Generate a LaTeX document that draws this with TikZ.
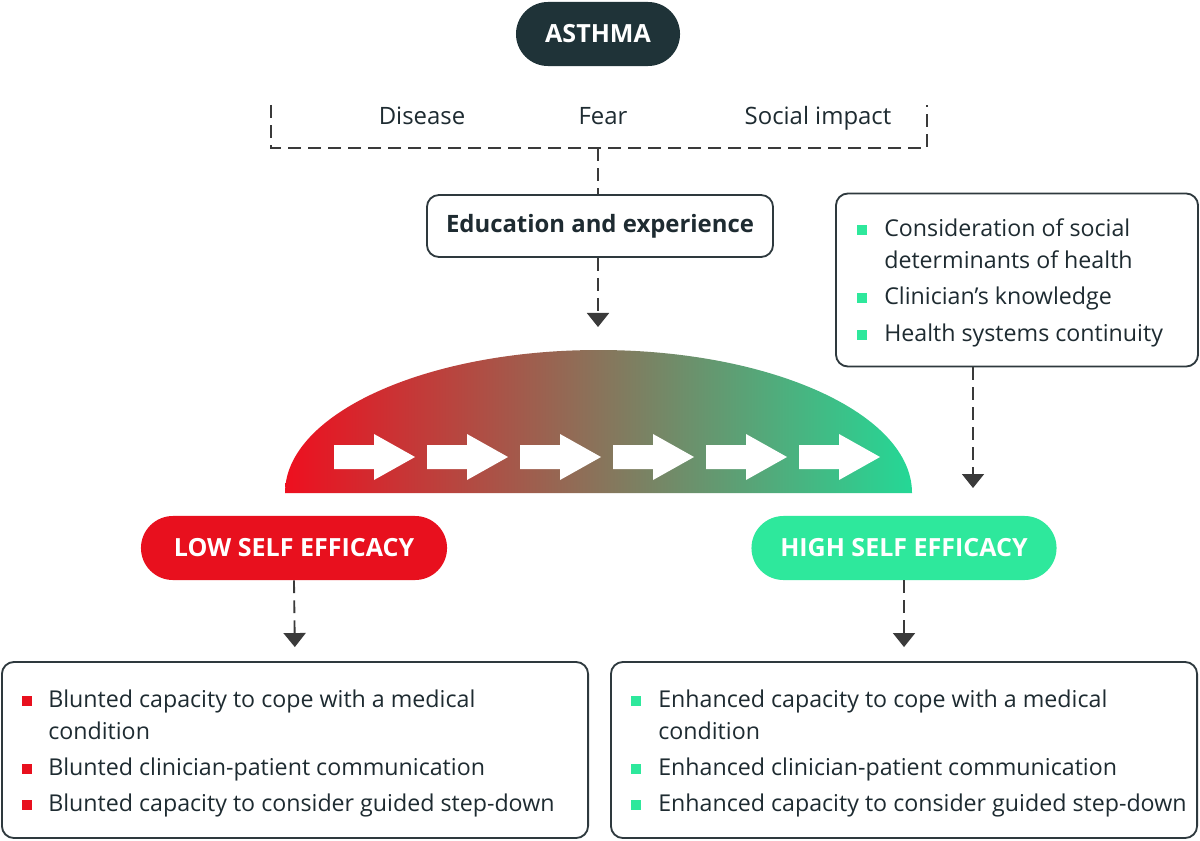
\documentclass[tikz,border=0pt]{standalone}
\usepackage{fontspec}
\setmainfont{Open Sans}
\usetikzlibrary{arrows,arrows.meta,positioning}
\definecolor{ink}{HTML}{1E2B31}
\definecolor{edge}{HTML}{2E393E}
\definecolor{arrowgrey}{HTML}{3A3A3A}
\definecolor{asthmafill}{HTML}{1F3338}
\definecolor{lowred}{HTML}{E8101E}
\definecolor{highgreen}{HTML}{2EE89C}
\definecolor{domered}{HTML}{EE0F1F}
\definecolor{domegreen}{HTML}{24D896}
\tikzstyle{pill} = [rectangle,rounded corners=0.8cm,minimum height=1.6cm,text=white,font=\bfseries\fontsize{17.8}{20}\selectfont]
\tikzstyle{card} = [draw=edge,line width=1.3pt,rectangle,rounded corners=0.3cm]
\tikzstyle{flow} = [draw=arrowgrey,line width=1.3pt,dash pattern=on 0.32cm off 0.18cm,-{Triangle[width=0.55cm,length=0.35cm]}]
\tikzstyle{link} = [flow,-]
\tikzstyle{label} = [anchor=base,inner sep=0,text=ink,font=\fontsize{17}{20}\selectfont]
\tikzstyle{itemtxt} = [anchor=base west,inner sep=0,text=ink,font=\fontsize{16.5}{20}\selectfont]
\tikzstyle{sq} = [rectangle,inner sep=0,minimum size=0.27cm]

\begin{document}
\begin{tikzpicture}[x=0.025cm,y=-0.025cm]
  \useasboundingbox[fill=white] (0,0) rectangle (1200,840);

  % top of the chain
  \node[pill,fill=asthmafill,minimum width=4.1cm] (asthma) at (598,34) {ASTHMA};
  \node[label] (disease) at (422,125) {Disease};
  \node[label] (fear) at (603,125) {Fear};
  \node[label] (social) at (818,125) {Social impact};
  \coordinate (brL) at (271,105);
  \coordinate (brR) at (927,105);
  \coordinate (brk) at (598,148);
  \draw[link] (brL) |- (brk) -| (brR);

  \node[card,minimum width=8.65cm,minimum height=1.55cm,text=ink,font=\bfseries\fontsize{17}{20}\selectfont] (edu) at (600,226) {Education and experience};
  \draw[link] (brk) -- (edu.north -| brk);
  \coordinate (domein) at (598,327);
  \draw[flow] (edu.south -| domein) -- (domein);

  % the dome with its arrows
  \shade[left color=domered,right color=domegreen] (285,493) arc[start angle=180,end angle=360,x radius=313.5,y radius=143] -- cycle;
  \foreach \ax in {334,427,520,613,706,799}
    \fill[white] (\ax,445) -- ++(40,0) -- ++(0,-11) -- ++(41,23) -- ++(-41,23) -- ++(0,-11) -- ++(-40,0) -- cycle;

  % factors on the right
  \node[card,minimum width=9.05cm,minimum height=4.325cm] (factors) at (1017,280) {};
  \foreach \y in {230,298,335}
    \node[sq,fill=highgreen] at (862,\y) {};
  \node[itemtxt] (f1) at (884,236) {Consideration of social};
  \node[itemtxt] (f2) at (884,268) {determinants of health};
  \node[itemtxt] (f3) at (884,304) {Clinician’s knowledge};
  \node[itemtxt] (f4) at (884,341) {Health systems continuity};
  \coordinate (hiin) at (973,488);
  \draw[flow] (factors.south -| hiin) -- (hiin);

  % the two outcomes
  \node[pill,fill=lowred,minimum width=7.65cm] (low) at (294,548) {LOW SELF EFFICACY};
  \node[pill,fill=highgreen,minimum width=7.625cm] (high) at (904,548) {HIGH SELF EFFICACY};

  \node[card,minimum width=14.65cm,minimum height=4.4cm] (lowbox) at (295,750) {};
  \node[card,minimum width=14.65cm,minimum height=4.4cm] (highbox) at (904,750) {};
  \draw[flow,shorten >=0.35cm] (low.south) -- (lowbox.north);
  \draw[flow,shorten >=0.35cm] (high.south) -- (highbox.north);

  \foreach \y in {701,769,805} {
    \node[sq,fill=lowred] at (27,\y) {};
    \node[sq,fill=highgreen] at (636,\y) {};
  }
  \node[itemtxt] (l1) at (48,707) {Blunted capacity to cope with a medical};
  \node[itemtxt] (l2) at (48,739) {condition};
  \node[itemtxt] (l3) at (48,775) {Blunted clinician-patient communication};
  \node[itemtxt] (l4) at (48,811) {Blunted capacity to consider guided step-down};
  \node[itemtxt] (h1) at (658,707) {Enhanced capacity to cope with a medical};
  \node[itemtxt] (h2) at (658,739) {condition};
  \node[itemtxt] (h3) at (658,775) {Enhanced clinician-patient communication};
  \node[itemtxt] (h4) at (658,811) {Enhanced capacity to consider guided step-down};
\end{tikzpicture}
\end{document}
